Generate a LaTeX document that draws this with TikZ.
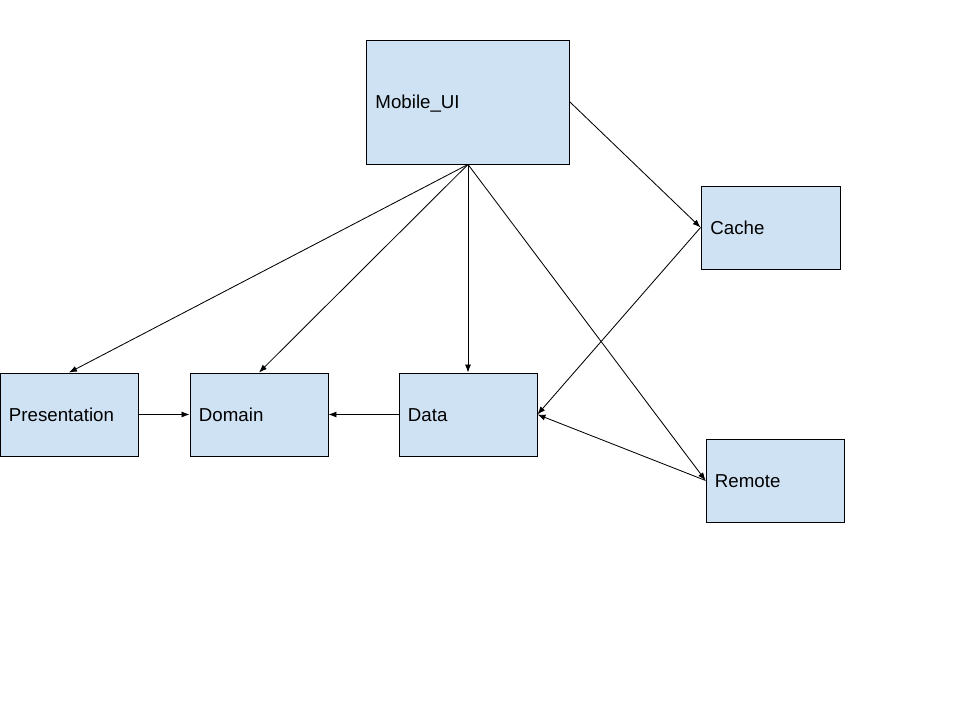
\documentclass[tikz,border=0pt]{standalone}
\usepackage{fontspec}
\setmainfont{Liberation Sans}
\usetikzlibrary{arrows.meta}
\definecolor{boxblue}{HTML}{CFE2F3}
\begin{document}
\begin{tikzpicture}[x=0.025cm,y=-0.025cm,
			box/.style={rectangle,draw,fill=boxblue,line width=0.6pt,inner xsep=0.225cm,
				align=left,font=\fontsize{13.3}{16}\selectfont,text height=0.33cm,text depth=0pt,
				text width=3.0cm,minimum width=3.45cm,minimum height=2.075cm},
			arr/.style={-{Latex[length=2mm,width=1.5mm]},line width=0.6pt}]
			\useasboundingbox (0,0) rectangle (960,720);
			\node[box,text width=4.625cm,minimum width=5.075cm,minimum height=3.1cm] (mobile) at (468,102) {Mobile\_UI};
			\node[box,minimum width=3.475cm] (cache) at (770.5,227.5) {Cache};
			\node[box] (presentation) at (69,414.5) {Presentation};
			\node[box] (domain) at (259,414.5) {Domain};
			\node[box] (data) at (468,414.5) {Data};
			\node[box] (remote) at (775,480.5) {Remote};
			% from the UI module
			\draw[arr] (mobile.south) -- (presentation.north);
			\draw[arr] (mobile.south) -- (domain.north);
			\draw[arr] (mobile.south) -- (data.north);
			\draw[arr] (mobile.south) -- (remote.west);
			\draw[arr] (mobile.east) -- (cache.west);
			% data sources
			\draw[arr] (cache.west) -- (data.east);
			\draw[arr] (remote.west) -- (data.east);
			\draw[arr] (presentation) -- (domain);
			\draw[arr] (data) -- (domain);
		\end{tikzpicture}
\end{document}
